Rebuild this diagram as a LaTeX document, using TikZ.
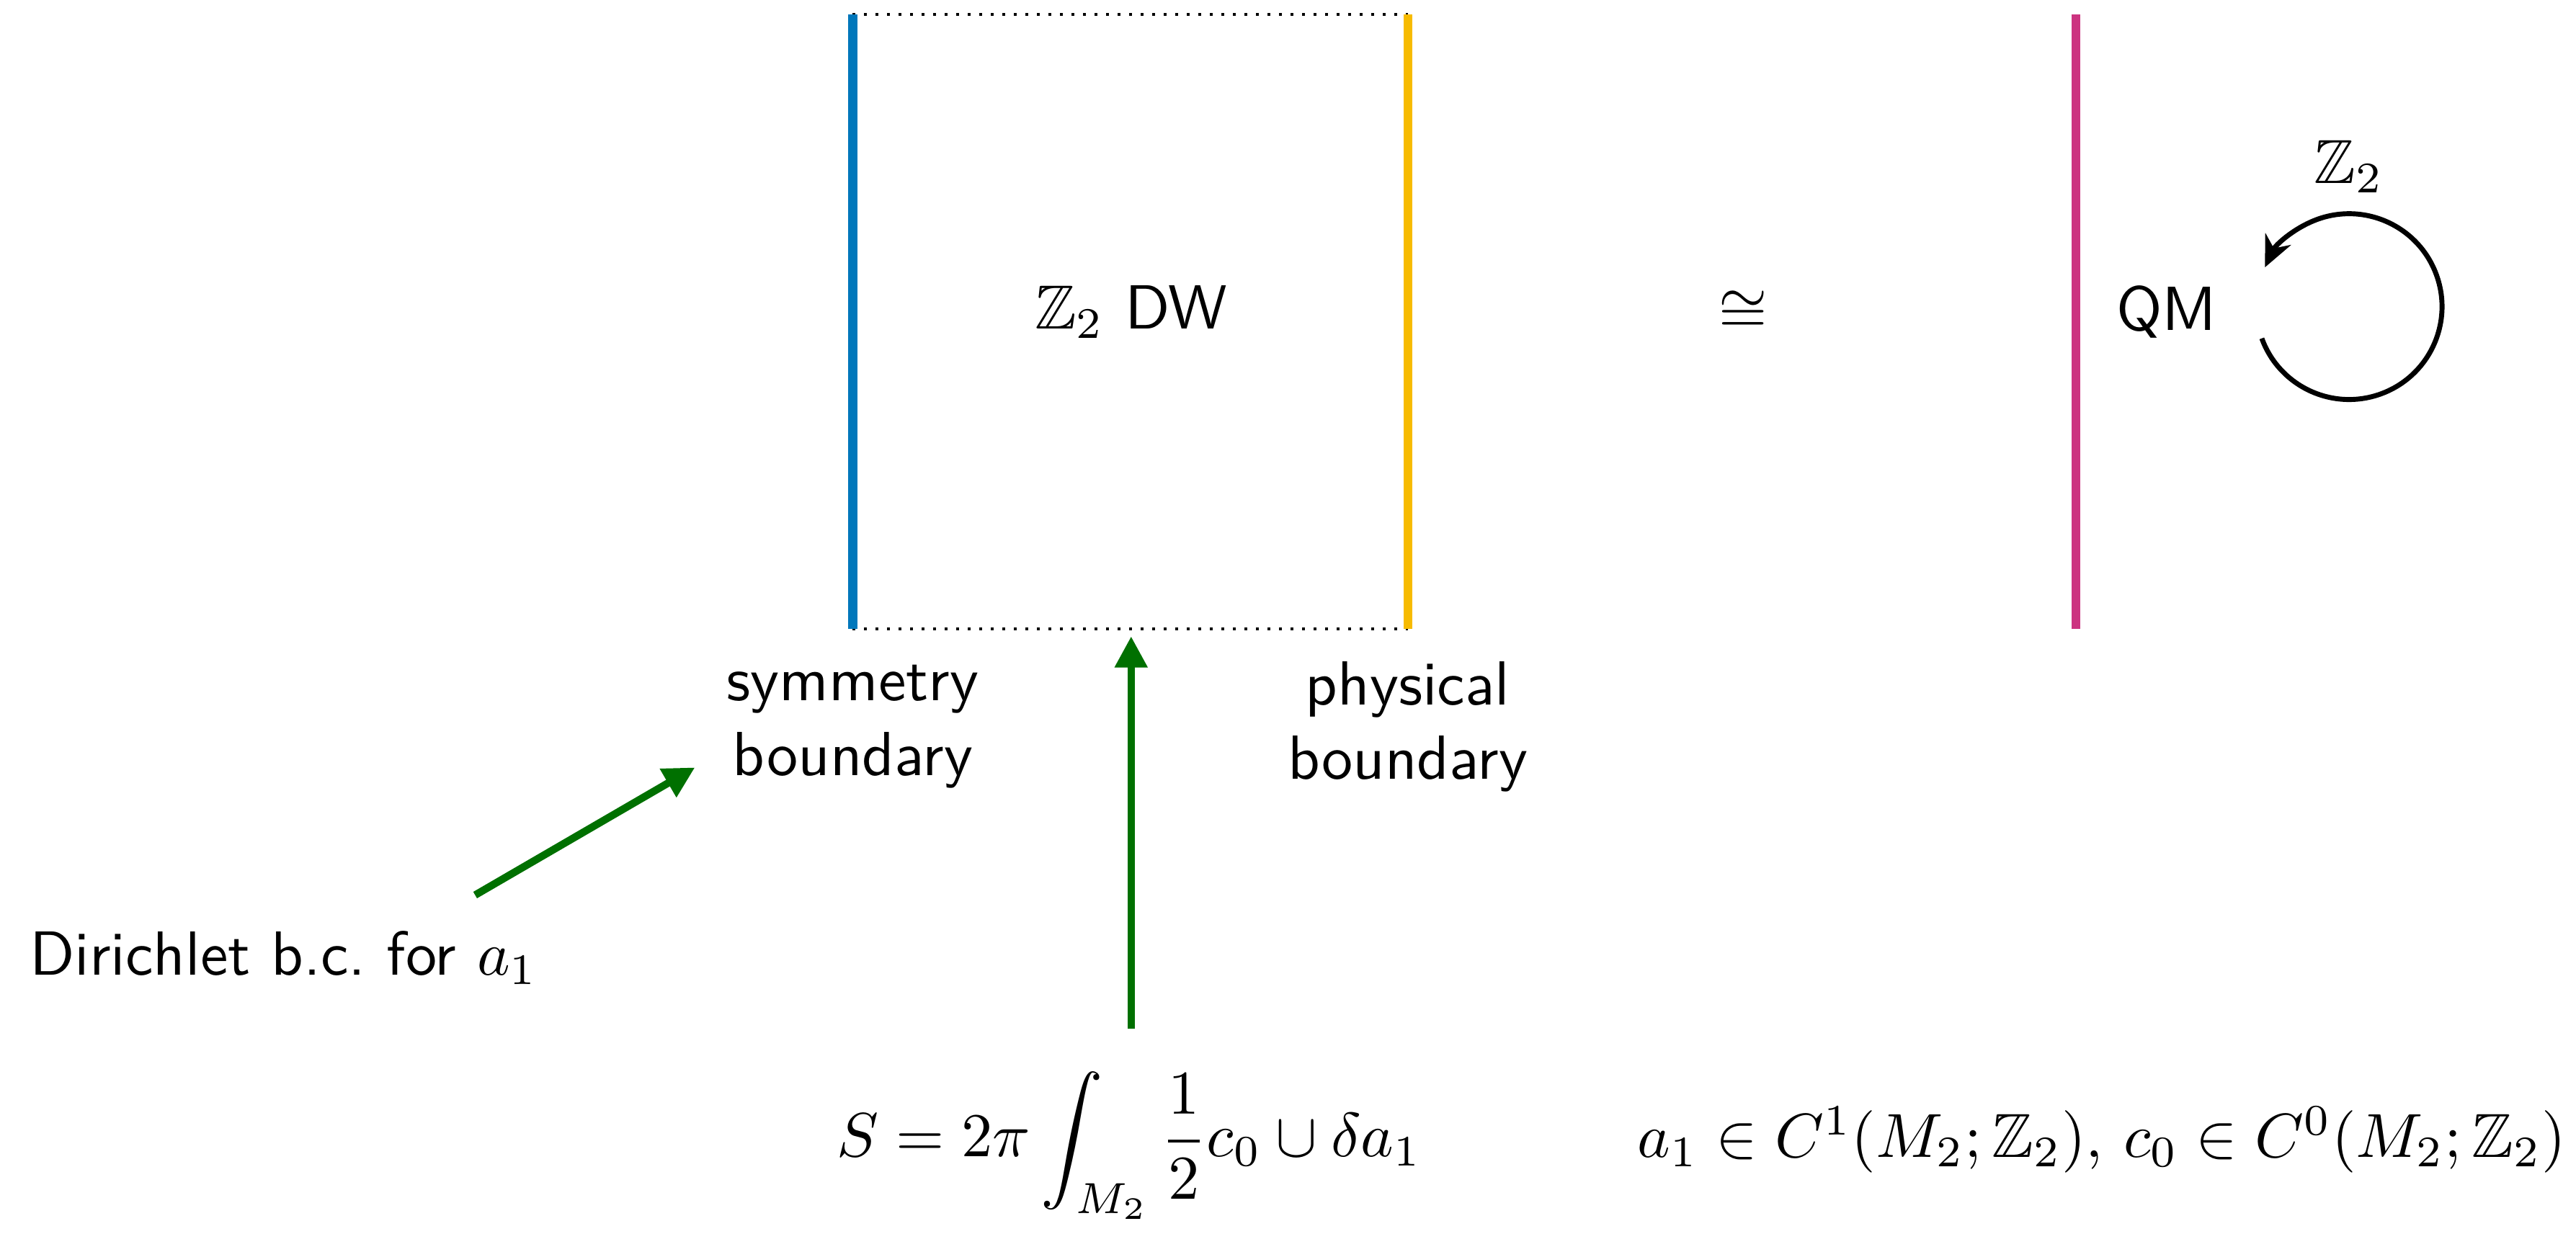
\documentclass[tikz,border=0pt]{standalone}
\usepackage{amsmath,amssymb}
\renewcommand{\familydefault}{\sfdefault}
\usetikzlibrary{arrows.meta, positioning}
\definecolor{symblue}{HTML}{0077BB}
\definecolor{physyellow}{HTML}{F7BB00}
\definecolor{qmmagenta}{HTML}{CC3380}
\definecolor{bcgreen}{HTML}{007000}

\begin{document}
\begin{tikzpicture}[
  bdry/.style={line width=1.4pt},
  openedge/.style={line width=0.45pt, dash pattern=on 0.45pt off 1.4pt},
  bcarrow/.style={bcgreen, line width=1.2pt, -{Triangle[length=5pt,width=5pt]}},
  lbl/.style={align=center}
]
  \useasboundingbox (0,0) rectangle (14.53,6.96);
  % Slab corners
  \coordinate (symbot) at (4.81,3.41);
  \coordinate (symtop) at (4.81,6.88);
  \coordinate (physbot) at (7.94,3.41);
  \coordinate (phystop) at (7.94,6.88);
  % Slab
  \draw[openedge] (symtop) -- (phystop);
  \draw[openedge] (symbot) -- (physbot);
  \draw[bdry, symblue] (symbot) -- (symtop);
  \draw[bdry, physyellow] (physbot) -- (phystop);
  \node (bulk) at (6.38,5.20) {$\mathbb{Z}_2$ DW};
  \node[lbl] (symlbl) at (4.81,2.86) {symmetry\\boundary};
  \node[lbl] (physlbl) at (7.94,2.86) {physical\\boundary};
  % Isomorphism
  \node (iso) at (9.83,5.20) {$\cong$};
  % QM line
  \coordinate (qmbot) at (11.71,3.41);
  \coordinate (qmtop) at (11.71,6.88);
  \draw[bdry, qmmagenta] (qmbot) -- (qmtop);
  \node (qm) at (12.22,5.20) {QM};
  % Z2 action on QM
  \coordinate (loop) at (13.25,5.23);
  \draw[line width=0.8pt, -{Stealth[length=5pt,width=4.5pt]}]
    (loop) ++(200:0.524) arc[start angle=200, end angle=515, radius=0.524];
  \node (symgrp) at (13.25,6.02) {$\mathbb{Z}_2$};
  % Boundary condition
  \node[anchor=base west, inner sep=0pt] (dirichlet) at (0.16,1.46) {Dirichlet b.c.\ for $a_1$};
  \coordinate (dirfrom) at (2.68,1.91);
  \coordinate (dirto) at (3.92,2.63);
  \draw[bcarrow] (dirfrom) -- (dirto);
  % Action
  \node[anchor=base] (action) at (6.37,0.435)
    {$\displaystyle S = 2\pi\int_{M_2}\frac{1}{2}c_0\cup\delta a_1$};
  \coordinate (actfrom) at (6.38,1.155);
  \coordinate (acttip) at (6.38,3.37);
  \draw[bcarrow] (actfrom) -- (acttip);
  \node[anchor=base east, inner sep=0pt] (fields) at (14.48,0.43)
    {$a_1\in C^1(M_2;\mathbb{Z}_2),\, c_0\in C^0(M_2;\mathbb{Z}_2)$};
\end{tikzpicture}
\end{document}
